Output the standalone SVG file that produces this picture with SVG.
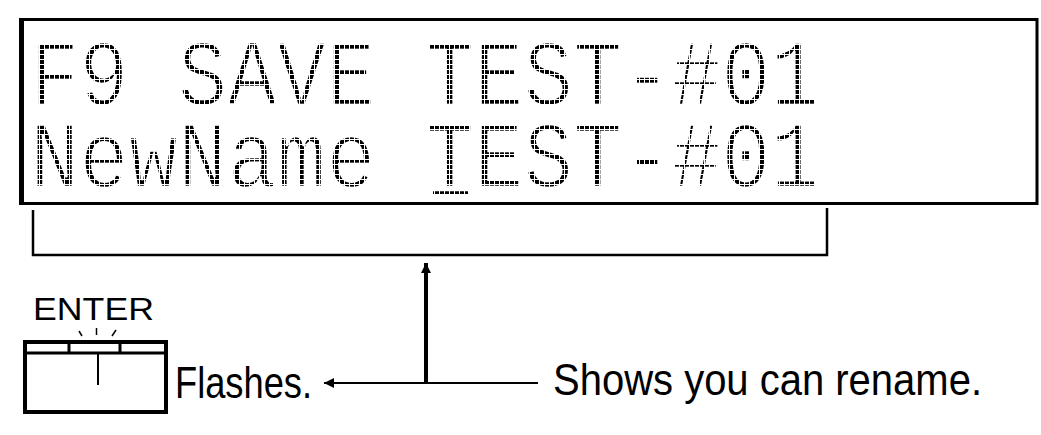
<svg xmlns="http://www.w3.org/2000/svg" width="1041" height="435" viewBox="0 0 1041 435">
<style>
.lcd{font-family:"Liberation Mono","DejaVu Sans Mono",monospace;font-size:95px;fill:#000;stroke:#fff;stroke-width:2.5px;paint-order:fill}
.lbl{font-family:"Liberation Sans","Arial",sans-serif;font-size:45px;fill:#000}
.ln{stroke:#000;fill:none}
</style>
<defs>
<pattern id="dotpat" width="5" height="5" patternUnits="userSpaceOnUse">
<rect x="0" y="0" width="4" height="4" fill="#fff"/>
</pattern>
<mask id="dotmask" maskUnits="userSpaceOnUse" x="0" y="0" width="1041" height="435">
<rect x="0" y="0" width="1041" height="435" fill="url(#dotpat)"/>
</mask>
<marker id="ah" viewBox="0 0 10 10" refX="10" refY="5" markerWidth="10" markerHeight="10" markerUnits="userSpaceOnUse" orient="auto">
<path d="M0,0 L10,5 L0,10 z" fill="#000"/>
</marker>
</defs>
<rect width="1041" height="435" fill="#fff"/>
<g id="display">
<rect x="21" y="19.5" width="1016" height="184" class="ln" stroke-width="3"/>
<line x1="21.5" y1="18" x2="21.5" y2="205" class="ln" stroke-width="5"/>
<g mask="url(#dotmask)">
<text class="lcd" x="30" y="105" textLength="790" lengthAdjust="spacingAndGlyphs">F9 SAVE TEST-#01</text>
<text class="lcd" x="30" y="187" textLength="790" lengthAdjust="spacingAndGlyphs">NewName TEST-#01</text>
<line x1="433" y1="193" x2="468" y2="193" class="ln" stroke-width="3.5"/>
</g>
</g>
<g id="bracket">
<path d="M33 210 V255 H827 V208" class="ln" stroke-width="2.5"/>
</g>
<g id="enter-key">
<text x="33" y="320" font-family="Liberation Sans, Arial, sans-serif" font-size="32" textLength="121" lengthAdjust="spacingAndGlyphs">ENTER</text>
<rect x="25" y="342" width="141" height="70" class="ln" stroke-width="4"/>
<line x1="25" y1="353" x2="166" y2="353" class="ln" stroke-width="3"/>
<line x1="69" y1="342" x2="69" y2="354" class="ln" stroke-width="3"/>
<line x1="120" y1="342" x2="120" y2="354" class="ln" stroke-width="3"/>
<line x1="98" y1="353" x2="98" y2="385" class="ln" stroke-width="2"/>
<line x1="79" y1="331" x2="82" y2="336" class="ln" stroke-width="1.5"/>
<line x1="96.5" y1="328" x2="96.5" y2="335" class="ln" stroke-width="1.5"/>
<line x1="116" y1="330" x2="112" y2="336" class="ln" stroke-width="1.5"/>
</g>
<g id="labels">
<text class="lbl" x="175" y="398" textLength="137" lengthAdjust="spacingAndGlyphs">Flashes.</text>
<text class="lbl" x="553" y="395" textLength="429" lengthAdjust="spacingAndGlyphs">Shows you can rename.</text>
</g>
<g id="connectors">
<line x1="538" y1="383" x2="324" y2="383" class="ln" stroke-width="2" marker-end="url(#ah)"/>
<line x1="426" y1="383" x2="426" y2="263" class="ln" stroke-width="4" marker-end="url(#ah)"/>
</g>
</svg>
